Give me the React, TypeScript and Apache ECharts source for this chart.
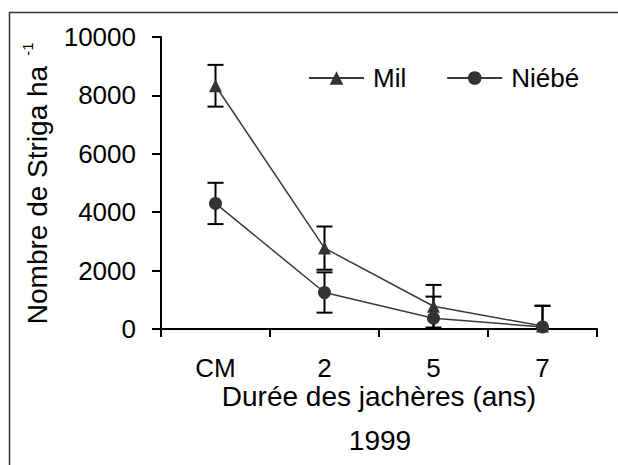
import React, { useEffect, useRef } from "react";
import * as echarts from "echarts";

const categories = ["CM", "2", "5", "7"];
const milValues = [8330, 2770, 780, 100];
const milErrors = [715, 740, 730, 700];
const niebeValues = [4300, 1250, 370, 70];
const niebeErrors = [707, 690, 740, 720];
const yTicks = { min: 0, max: 10000, interval: 2000 };

const FONT = "'Liberation Sans', Arial, sans-serif";

function errorData(values: number[], errors: number[]) {
  return values.map((v, i) => [i, v - errors[i], v + errors[i]]);
}

function errorSeries(name: string, values: number[], errors: number[]) {
  return {
    type: "custom",
    name: name + "-err",
    z: 1,
    silent: true,
    data: errorData(values, errors),
    renderItem: (params: any, api: any) => {
      const x = api.value(0);
      const lo = api.value(1);
      const hi = api.value(2);
      const loClamped = Math.max(lo, 0);
      const pHi = api.coord([x, hi]);
      const pLo = api.coord([x, loClamped]);
      const half = 8;
      const style = { stroke: "#000", lineWidth: 2 };
      const children: any[] = [
        { type: "line", shape: { x1: pHi[0], y1: pHi[1], x2: pLo[0], y2: pLo[1] }, style },
        { type: "line", shape: { x1: pHi[0] - half, y1: pHi[1], x2: pHi[0] + half, y2: pHi[1] }, style },
      ];
      if (lo > 0) {
        children.push({ type: "line", shape: { x1: pLo[0] - half, y1: pLo[1], x2: pLo[0] + half, y2: pLo[1] }, style });
      }
      return { type: "group", children };
    },
  };
}

export default function App() {
  const ref = useRef<HTMLDivElement>(null);
  useEffect(() => {
    document.body.style.margin = "0";
    const chart = echarts.init(ref.current!, null, { renderer: "svg" });
    chart.setOption({
      animation: false,
      backgroundColor: "#fff",
      grid: { left: 161, right: 21, top: 37, bottom: 136 },
      legend: {
        left: 308,
        top: 65,
        padding: 0,
        itemWidth: 55,
        itemHeight: 17,
        itemGap: 40,
        data: ["Mil", "Niébé"],
        textStyle: { fontSize: 26, fontFamily: FONT, color: "#000", padding: [0, 0, 0, 4] },
      },
      xAxis: {
        type: "category",
        data: categories,
        boundaryGap: true,
        axisLine: { lineStyle: { color: "#000", width: 2 } },
        axisTick: { show: true, inside: false, length: 8, lineStyle: { color: "#000", width: 2 } },
        axisLabel: { fontSize: 26, fontFamily: FONT, color: "#000", margin: 26 },
        splitLine: { show: false },
      },
      yAxis: {
        type: "value",
        min: yTicks.min,
        max: yTicks.max,
        interval: yTicks.interval,
        axisLine: { show: true, lineStyle: { color: "#000", width: 2 } },
        axisTick: { show: true, inside: false, length: 9, lineStyle: { color: "#000", width: 2 } },
        axisLabel: {
          fontSize: 26,
          fontFamily: FONT,
          color: "#000",
          margin: 25,
          formatter: (v: number) => String(v),
        },
        splitLine: { show: false },
      },
      graphic: [
        {
          type: "rect",
          shape: { x: 9.5, y: 12.5, width: 800, height: 800 },
          style: { fill: "none", stroke: "#333", lineWidth: 1.5 },
          silent: true,
        },
        {
          type: "text",
          x: 37,
          y: 195,
          rotation: Math.PI / 2,
          style: {
            text: "Nombre de Striga ha",
            fontSize: 28,
            fontFamily: FONT,
            fill: "#000",
            align: "center",
            verticalAlign: "middle",
          },
        },
        {
          type: "text",
          x: 27,
          y: 49,
          rotation: Math.PI / 2,
          style: {
            text: "-1",
            fontSize: 15,
            fontFamily: FONT,
            fill: "#000",
            align: "center",
            verticalAlign: "middle",
          },
        },
        {
          type: "text",
          x: 379,
          y: 396,
          style: {
            text: "Durée des jachères (ans)",
            fontSize: 28,
            fontFamily: FONT,
            fill: "#000",
            align: "center",
            verticalAlign: "middle",
          },
        },
        {
          type: "text",
          x: 380,
          y: 440,
          style: {
            text: "1999",
            fontSize: 28,
            fontFamily: FONT,
            fill: "#000",
            align: "center",
            verticalAlign: "middle",
          },
        },
      ],
      series: [
        errorSeries("Mil", milValues, milErrors),
        errorSeries("Niébé", niebeValues, niebeErrors),
        {
          type: "line",
          name: "Mil",
          data: milValues,
          z: 3,
          symbol: "triangle",
          symbolSize: 13,
          itemStyle: { color: "#333" },
          lineStyle: { color: "#3a3a3a", width: 1.5 },
        },
        {
          type: "line",
          name: "Niébé",
          data: niebeValues,
          z: 4,
          symbol: "circle",
          symbolSize: 13,
          itemStyle: { color: "#333" },
          lineStyle: { color: "#3a3a3a", width: 1.5 },
        },
      ],
    });
    return () => chart.dispose();
  }, []);
  return <div ref={ref} style={{ width: 618, height: 465 }} />;
}
